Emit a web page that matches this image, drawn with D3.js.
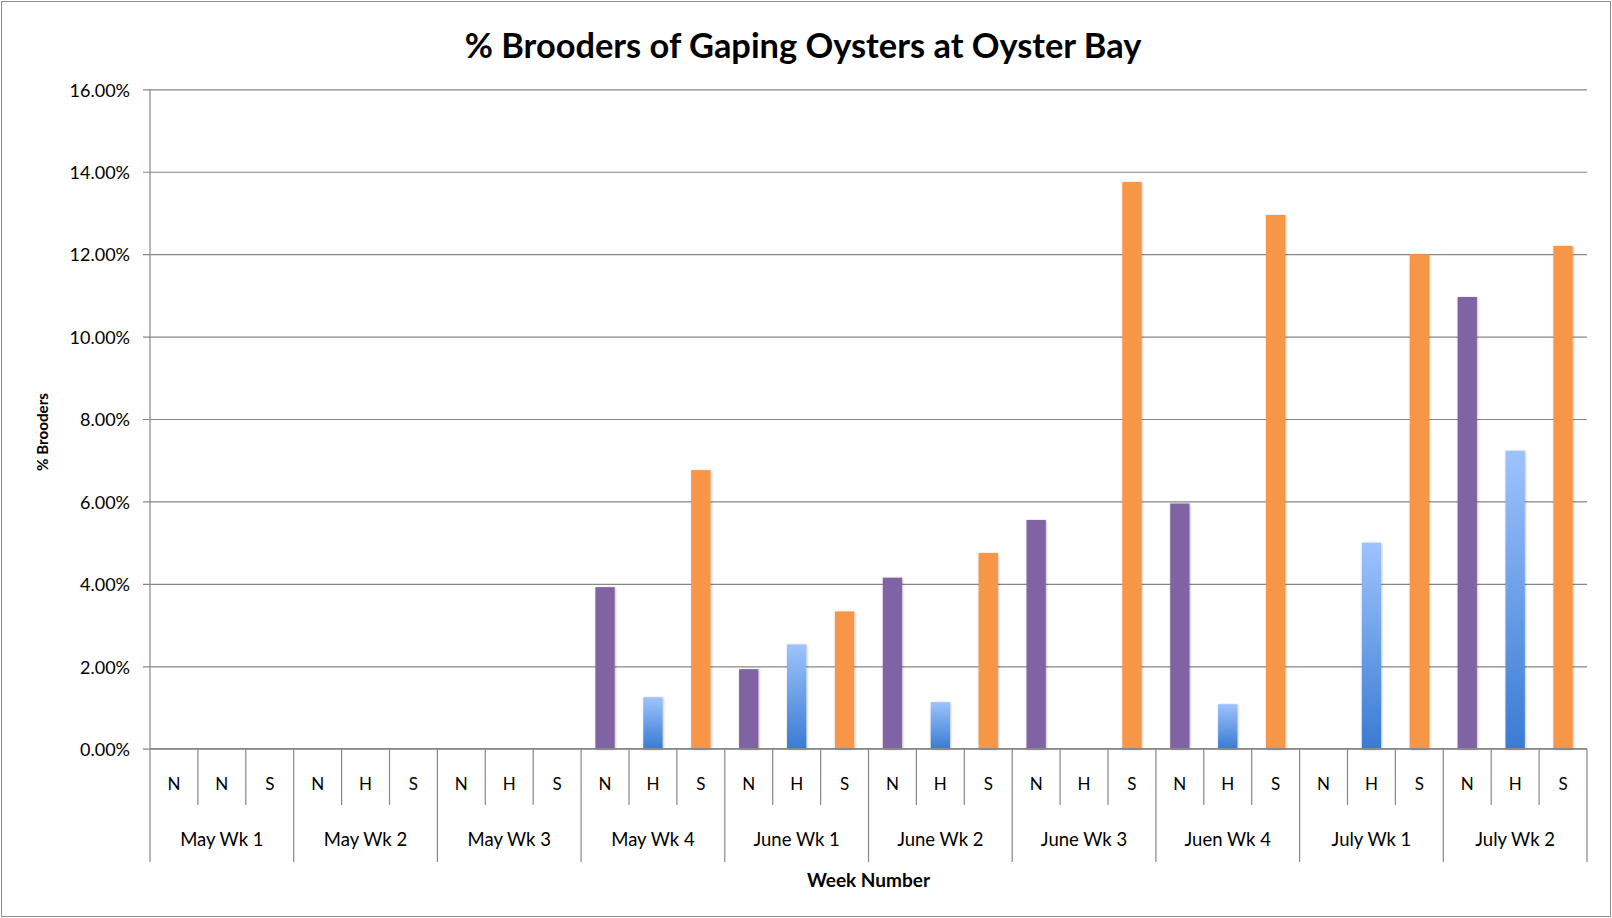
<!DOCTYPE html>
<html>
<head>
<meta charset="utf-8">
<script src="https://cdn.jsdelivr.net/npm/d3@7/dist/d3.min.js"></script>
<style>
  html, body { margin: 0; padding: 0; background: #fff; }
  svg { display: block; }
  text { font-family: Lato, "Open Sans", sans-serif; fill: #000; }
</style>
</head>
<body>
<svg id="chart" width="1612" height="918"></svg>
<script>
// ---- Data ----
const weeks = ["May Wk 1", "May Wk 2", "May Wk 3", "May Wk 4", "June Wk 1",
               "June Wk 2", "June Wk 3", "Juen Wk 4", "July Wk 1", "July Wk 2"];
const siteLabels = [
  ["N", "N", "S"], ["N", "H", "S"], ["N", "H", "S"], ["N", "H", "S"], ["N", "H", "S"],
  ["N", "H", "S"], ["N", "H", "S"], ["N", "H", "S"], ["N", "H", "S"], ["N", "H", "S"]
];
const seriesN = [0, 0, 0, 0.0392, 0.0193, 0.0415, 0.0555, 0.0595, 0, 0.1096];
const seriesH = [0, 0, 0, 0.0125, 0.0253, 0.0113, 0, 0.0108, 0.0500, 0.0723];
const seriesS = [0, 0, 0, 0.0676, 0.0333, 0.0475, 0.1375, 0.1295, 0.1200, 0.1220];
const yTicks = [0, 0.02, 0.04, 0.06, 0.08, 0.10, 0.12, 0.14, 0.16];
const title = "% Brooders of Gaping Oysters at Oyster Bay";
const yTitle = "% Brooders";
const xTitle = "Week Number";

// ---- Layout ----
const W = 1612, H = 918;
const plot = { left: 150, right: 1587, top: 89.3, bottom: 748.7 };
const gridColor = "#878787";

const svg = d3.select("#chart");

const defs = svg.append("defs");
const grad = defs.append("linearGradient").attr("id", "blueGrad")
  .attr("x1", 0).attr("y1", 0).attr("x2", 0).attr("y2", 1);
grad.append("stop").attr("offset", "0%").attr("stop-color", "#9dc3fd");
grad.append("stop").attr("offset", "100%").attr("stop-color", "#3a7bd2");
const f = defs.append("filter").attr("id", "shadow")
  .attr("x", "-30%").attr("y", "-5%").attr("width", "160%").attr("height", "110%");
f.append("feDropShadow").attr("dx", 0.6).attr("dy", 0.6).attr("stdDeviation", 1.1)
  .attr("flood-color", "#000").attr("flood-opacity", 0.3);

// outer border
svg.append("rect").attr("x", 1.5).attr("y", 1.5).attr("width", W - 3).attr("height", H - 3)
  .attr("fill", "#fff").attr("stroke", "#8e8e8e").attr("stroke-width", 1);

// flatten bars
const bars = [];
weeks.forEach((w, i) => {
  [seriesN, seriesH, seriesS].forEach((s, j) => {
    bars.push({ key: i + "-" + j, week: w, label: siteLabels[i][j], value: s[i], series: j });
  });
});

const x = d3.scaleBand().domain(bars.map(d => d.key)).range([plot.left, plot.right]).padding(0);
const xGroup = d3.scaleBand().domain(weeks).range([plot.left, plot.right]).padding(0);
const y = d3.scaleLinear().domain([0, 0.16]).range([plot.bottom, plot.top]);

// gridlines + y axis
const yAxis = d3.axisLeft(y).tickValues(yTicks).tickFormat(d3.format(".2%"))
  .tickSize(-(plot.right - plot.left)).tickPadding(20);
const gy = svg.append("g").attr("transform", `translate(${plot.left},0)`).call(yAxis);
gy.select(".domain").remove();
gy.selectAll(".tick line").attr("stroke", gridColor).attr("stroke-width", 1.2)
  .attr("x1", -7);
gy.selectAll(".tick text").attr("font-size", 18).attr("fill", "#000")
  .attr("font-family", "Lato, sans-serif").attr("dy", "0.38em");
// y axis line
svg.append("line").attr("x1", plot.left).attr("x2", plot.left)
  .attr("y1", plot.top).attr("y2", plot.bottom)
  .attr("stroke", gridColor).attr("stroke-width", 1.2);

// bars
const colors = ["#8064a2", "url(#blueGrad)", "#f79646"];
const bw = x.bandwidth() * 0.403;
svg.append("g").selectAll("rect").data(bars.filter(d => d.value > 0)).join("rect")
  .attr("x", d => x(d.key) + (x.bandwidth() - bw) / 2)
  .attr("width", bw)
  .attr("y", d => y(d.value))
  .attr("height", d => y(0) - y(d.value))
  .attr("fill", d => colors[d.series])
  .attr("filter", "url(#shadow)");

// x axis: baseline + separators
const subBottom = 805, groupBottom = 862;
svg.append("line").attr("x1", plot.left).attr("x2", plot.right)
  .attr("y1", plot.bottom).attr("y2", plot.bottom)
  .attr("stroke", gridColor).attr("stroke-width", 1.2);
const edges = bars.map(d => x(d.key)).concat([plot.right]);
svg.append("g").selectAll("line").data(edges).join("line")
  .attr("x1", d => d).attr("x2", d => d)
  .attr("y1", plot.bottom)
  .attr("y2", (d, i) => (i % 3 === 0) ? groupBottom : subBottom)
  .attr("stroke", gridColor).attr("stroke-width", 1.2);

// sub labels
svg.append("g").selectAll("text").data(bars).join("text")
  .attr("x", d => x(d.key) + x.bandwidth() / 2)
  .attr("y", 790)
  .attr("text-anchor", "middle")
  .attr("font-size", 17)
  .text(d => d.label);

// group labels
svg.append("g").selectAll("text").data(weeks).join("text")
  .attr("x", d => xGroup(d) + xGroup.bandwidth() / 2)
  .attr("y", 846)
  .attr("text-anchor", "middle")
  .attr("font-size", 18.5)
  .text(d => d);

// fit helper
function fit(sel, target) {
  const base = +sel.attr("font-size");
  const w = sel.node().getComputedTextLength();
  sel.attr("font-size", base * target / w);
}

// title
const t = svg.append("text").attr("x", 803).attr("y", 58)
  .attr("text-anchor", "middle").attr("font-weight", "bold").attr("font-size", 34)
  .text(title);
fit(t, 677);

// axis titles
const xt = svg.append("text").attr("x", (plot.left + plot.right) / 2).attr("y", 886.5)
  .attr("text-anchor", "middle").attr("font-weight", "bold").attr("font-size", 17)
  .text(xTitle);
fit(xt, 123);

const yt = svg.append("text")
  .attr("transform", "translate(48,432) rotate(-90)")
  .attr("text-anchor", "middle").attr("font-weight", "bold").attr("font-size", 16)
  .text(yTitle);
fit(yt, 78);
</script>
</body>
</html>
